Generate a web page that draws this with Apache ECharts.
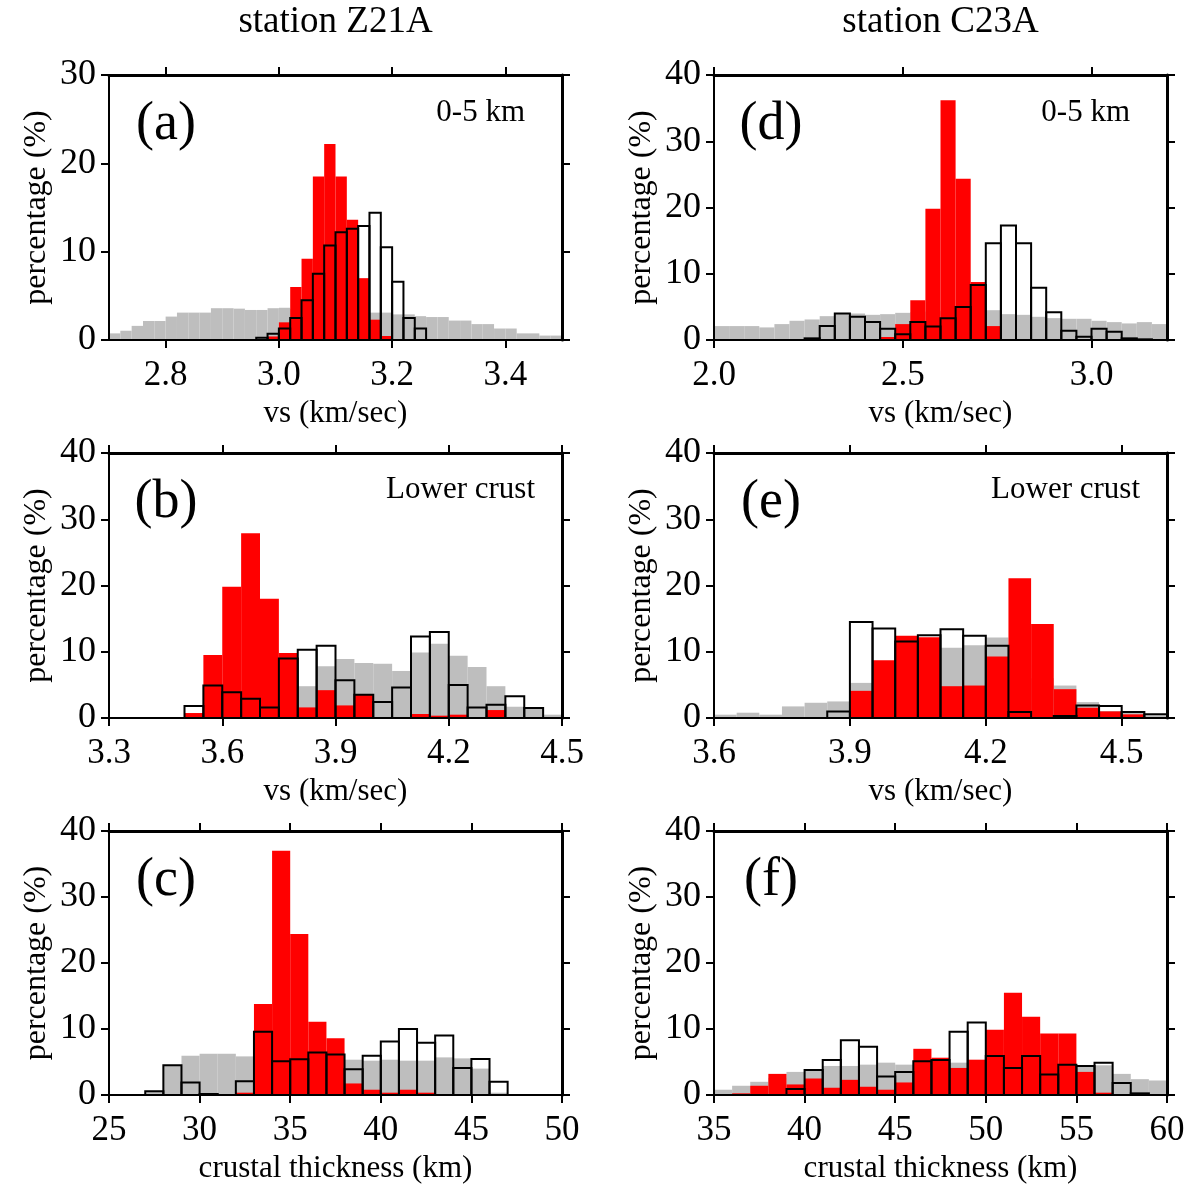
<!DOCTYPE html>
<html>
<head>
<meta charset="utf-8">
<script src="https://cdn.jsdelivr.net/npm/echarts@6/dist/echarts.min.js"></script>
<style>
  html, body { margin: 0; padding: 0; background: #fff; }
  #chart { width: 1190px; height: 1185px; }
</style>
</head>
<body>
<div id="chart"></div>
<script>
// ---- histogram data: bin start, bin width and percentage per bin ----
// (a) Z21A, Vs 0-5 km
const aBin = 0.02;
const aGrayStart = 2.70;
const aGray = [0.75,1.05,1.6,2.15,2.15,2.65,3.1,3.1,3.1,3.6, 3.6,3.55,3.4,3.4,3.6,3.65,3.5,3.4,3.4,3.4,
               3.3,3.3,3.2,3.1,3.1,2.9,2.9,2.7,2.6,2.6, 2.2,2.2,1.8,1.8,1.3,1.3,0.75,0.75,0.5,0.5];
const aRedStart = 2.98;
const aRed = [0.4,2.0,6.0,9.2,18.5,22.2,18.5,13.6,7.0,2.3,0.45];
const aOpenStart = 2.96;
const aOpen = [0.25,0.7,1.3,2.5,4.5,7.5,10.7,12.2,12.6,12.9,14.4,10.5,6.6,2.5,1.3];
const aTicks = [2.8, 3.0, 3.2, 3.4];

// (b) Z21A, Vs lower crust
const bBin = 0.05;
const bGrayStart = 3.55;
const bGray = [0,0.5,1,1.5,2.5,4.8,7.8,8.9,8.3,8.2,7.1,9.9,11.2,9.4,7.7,4.8,1.7,1.4,0.5];
const bRedStart = 3.50;
const bRed = [0.75,9.5,19.8,27.9,18.0,9.8,1.6,4.2,1.9,3.5,0,0,0.6,0.35,0.5,0,1.2];
const bOpenStart = 3.50;
const bOpen = [1.8,4.9,3.9,2.9,1.6,9.0,10.3,10.9,5.7,3.5,2.4,4.6,12.3,13.0,5.0,1.6,2.0,3.3,1.5];
const bTicks = [3.3, 3.6, 3.9, 4.2, 4.5];

// (c) Z21A, crustal thickness
const cBin = 1;
const cGrayStart = 27;
const cGray = [0.5,4.4,5.95,6.25,6.25,5.85,5.8,5.8,5.8,5.7,5.6,5.35,5.2,5.35,5.2,5.2,5.7,5.55,4.0,0.35];
const cRedStart = 32;
const cRed = [0.35,13.8,37.0,24.4,11.1,8.6,1.75,0.8,0.35,0.8,0.35];
const cOpenStart = 27;
const cOpen = [0.55,4.5,1.9,0.15,0,2.1,9.6,5.1,5.4,6.45,6.15,3.9,5.95,8.1,10.0,7.9,9.0,4.1,5.45,2.0];
const cTicks = [25, 30, 35, 40, 45, 50];

// (d) C23A, Vs 0-5 km
const dBin = 0.04;
const dGrayStart = 2.00;
const dGray = [2.1,2.1,2.1,1.9,2.4,2.9,3.1,3.6,4.0,4.0, 3.8,3.9,4.1,4.2,4.3,4.4,4.4,4.5,4.5,3.9,
               3.8,3.5,3.3,3.2,3.2,2.9,2.7,2.5,2.7,2.4];
const dRedStart = 2.44;
const dRed = [0.45,2.4,6.0,19.8,36.2,24.35,8.75,2.1];
const dOpenStart = 2.24;
const dOpen = [0.25,2.1,4.0,3.5,2.7,1.7,0.85,2.7,2.05,3.3,5.0,8.3,14.6,17.3,14.6,7.9,4.2,1.4,0.5,1.7,1.25,0.25,0.1];
const dTicks = [2.0, 2.5, 3.0];

// (e) C23A, Vs lower crust
const eBin = 0.05;
const eGrayStart = 3.60;
const eGray = [0.5,0.8,0.5,1.75,2.3,2.5,5.3,7.5,9.5,10.0,10.6,11.0,12.15,8.0,6.0,4.9,2.4,1.05,1.0,0.4];
const eRedStart = 3.85;
const eRed = [0.15,4.1,8.7,12.4,12.2,4.8,4.9,9.3,21.1,14.2,4.35,1.55,1.0,0.55];
const eOpenStart = 3.85;
const eOpen = [1.0,14.5,13.5,11.55,12.5,13.4,12.4,10.9,0.9,0,0.3,1.9,1.8,0.9,0.55];
const eTicks = [3.6, 3.9, 4.2, 4.5];

// (f) C23A, crustal thickness
const fBin = 1;
const fGrayStart = 35;
const fGray = [0.8,1.4,2.0,2.6,3.5,3.9,4.4,4.4,4.6,4.9,4.6,4.8,5.0,4.9,5.0,5.0,5.0,5.0,4.8,4.6,4.3,4.5,3.2,2.4,2.2];
const fRedStart = 36;
const fRed = [0.25,1.4,3.2,1.6,2.5,1.1,2.3,1.25,0.8,1.9,7.0,5.65,4.1,5.35,9.9,15.5,11.85,9.3,9.3,3.5,0.35];
const fOpenStart = 39;
const fOpen = [0.9,3.8,5.3,8.3,7.3,2.8,3.5,5.1,5.3,9.6,11.0,5.9,4.1,5.9,3.1,4.6,4.4,4.9,1.8,0.25];
const fTicks = [35, 40, 45, 50, 55, 60];

const yTicks30 = [0, 10, 20, 30];
const yTicks40 = [0, 10, 20, 30, 40];

// ---- layout ----
const SERIF = '"Liberation Serif", "Times New Roman", serif';
const COLS = [109, 714];
const ROWS = [75, 453, 831];
const PW = 453, PH = 265;

const panels = [
  { col: 0, row: 0, xMin: 2.7, xMax: 3.5, yMax: 30, yTicks: yTicks30, xTicks: aTicks, dec: 1, xName: 'vs (km/sec)',
    letter: '(a)', note: '0-5 km', bin: aBin, gray: [aGrayStart, aGray], red: [aRedStart, aRed], open: [aOpenStart, aOpen] },
  { col: 0, row: 1, xMin: 3.3, xMax: 4.5, yMax: 40, yTicks: yTicks40, xTicks: bTicks, dec: 1, xName: 'vs (km/sec)',
    letter: '(b)', note: 'Lower crust', bin: bBin, gray: [bGrayStart, bGray], red: [bRedStart, bRed], open: [bOpenStart, bOpen] },
  { col: 0, row: 2, xMin: 25, xMax: 50, yMax: 40, yTicks: yTicks40, xTicks: cTicks, dec: 0, xName: 'crustal thickness (km)',
    letter: '(c)', note: '', bin: cBin, gray: [cGrayStart, cGray], red: [cRedStart, cRed], open: [cOpenStart, cOpen] },
  { col: 1, row: 0, xMin: 2.0, xMax: 3.2, yMax: 40, yTicks: yTicks40, xTicks: dTicks, dec: 1, xName: 'vs (km/sec)',
    letter: '(d)', note: '0-5 km', bin: dBin, gray: [dGrayStart, dGray], red: [dRedStart, dRed], open: [dOpenStart, dOpen] },
  { col: 1, row: 1, xMin: 3.6, xMax: 4.6, yMax: 40, yTicks: yTicks40, xTicks: eTicks, dec: 1, xName: 'vs (km/sec)',
    letter: '(e)', note: 'Lower crust', bin: eBin, gray: [eGrayStart, eGray], red: [eRedStart, eRed], open: [eOpenStart, eOpen] },
  { col: 1, row: 2, xMin: 35, xMax: 60, yMax: 40, yTicks: yTicks40, xTicks: fTicks, dec: 0, xName: 'crustal thickness (km)',
    letter: '(f)', note: '', bin: fBin, gray: [fGrayStart, fGray], red: [fRedStart, fRed], open: [fOpenStart, fOpen] }
];

function bins(start, width, vals) {
  return vals.map((v, k) => [start + k * width, start + (k + 1) * width, v]);
}

function histSeries(i, data, style, z) {
  return {
    type: 'custom',
    xAxisIndex: 2 * i,
    yAxisIndex: 2 * i,
    z: z,
    silent: true,
    encode: { x: [0, 1], y: 2 },
    data: data,
    renderItem: function (params, api) {
      const h = api.value(2);
      if (!(h > 0)) return null;
      const p0 = api.coord([api.value(0), 0]);
      const p1 = api.coord([api.value(1), h]);
      return {
        type: 'rect',
        shape: { x: p0[0], y: p1[1], width: p1[0] - p0[0], height: p0[1] - p1[1] },
        style: style
      };
    }
  };
}

function label(x, y, text, size, align) {
  return {
    type: 'text', x: x, y: y, z: 20,
    style: { text: text, fill: '#000', font: size + 'px ' + SERIF,
             align: align, verticalAlign: 'middle', textAlign: align, textVerticalAlign: 'middle' }
  };
}

const grid = [], xAxis = [], yAxis = [], series = [], graphic = [];
const lineStyle = { color: '#000', width: 2 };

panels.forEach((p, i) => {
  const left = COLS[p.col], top = ROWS[p.row];
  grid.push({ left: left, top: top, width: PW, height: PH, containLabel: false });

  const xCommon = {
    type: 'value', gridIndex: i, min: p.xMin, max: p.xMax, z: 10,
    splitLine: { show: false },
    axisLine: { show: true, onZero: false, lineStyle: lineStyle },
    axisTick: { show: true, inside: false, length: 8, lineStyle: lineStyle, customValues: p.xTicks }
  };
  xAxis.push(Object.assign({}, xCommon, {
    position: 'bottom',
    name: p.xName, nameLocation: 'middle', nameGap: 58,
    nameTextStyle: { fontFamily: SERIF, fontSize: 31, color: '#000' },
    axisLabel: { show: true, customValues: p.xTicks, margin: 18, color: '#000',
                 fontFamily: SERIF, fontSize: 35, formatter: v => v.toFixed(p.dec) }
  }));
  xAxis.push(Object.assign({}, xCommon, {
    position: 'top', axisLabel: { show: false },
    axisLine: { show: true, onZero: false, lineStyle: { color: '#000', width: 3 } }
  }));

  const yCommon = {
    type: 'value', gridIndex: i, min: 0, max: p.yMax, interval: 10, z: 10,
    splitLine: { show: false },
    axisLine: { show: true, onZero: false, lineStyle: lineStyle },
    axisTick: { show: true, inside: false, length: 8, lineStyle: lineStyle, customValues: p.yTicks }
  };
  yAxis.push(Object.assign({}, yCommon, {
    position: 'left',
    name: 'percentage (%)', nameLocation: 'middle', nameGap: 56, nameRotate: 90,
    nameTextStyle: { fontFamily: SERIF, fontSize: 32, color: '#000' },
    axisLabel: { show: true, customValues: p.yTicks, margin: 13, color: '#000',
                 fontFamily: SERIF, fontSize: 36 }
  }));
  yAxis.push(Object.assign({}, yCommon, {
    position: 'right', axisLabel: { show: false },
    axisLine: { show: true, onZero: false, lineStyle: { color: '#000', width: 3 } }
  }));

  // white fill of the open histogram, prior (grey), posterior (red), open outlines
  series.push(histSeries(i, bins(p.open[0], p.bin, p.open[1]), { fill: '#ffffff', stroke: null }, 1));
  series.push(histSeries(i, bins(p.gray[0], p.bin, p.gray[1]), { fill: '#bebebe', stroke: null }, 2));
  series.push(histSeries(i, bins(p.red[0], p.bin, p.red[1]), { fill: '#ff0000', stroke: null }, 3));
  series.push(histSeries(i, bins(p.open[0], p.bin, p.open[1]), { fill: null, stroke: '#000', lineWidth: 2 }, 4));

  graphic.push(label(left + 57, top + 50, p.letter, 54, 'center'));
  if (p.note === '0-5 km') graphic.push(label(left + PW - 37, top + 38, p.note, 31, 'right'));
  if (p.note === 'Lower crust') graphic.push(label(left + PW - 27, top + 37, p.note, 31, 'right'));
});

graphic.push(label(COLS[0] + PW / 2, 22, 'station Z21A', 37, 'center'));
graphic.push(label(COLS[1] + PW / 2, 22, 'station C23A', 37, 'center'));

const chart = echarts.init(document.getElementById('chart'), null, { renderer: 'canvas' });
chart.setOption({
  animation: false,
  backgroundColor: '#ffffff',
  grid: grid,
  xAxis: xAxis,
  yAxis: yAxis,
  series: series,
  graphic: graphic
});
</script>
</body>
</html>
